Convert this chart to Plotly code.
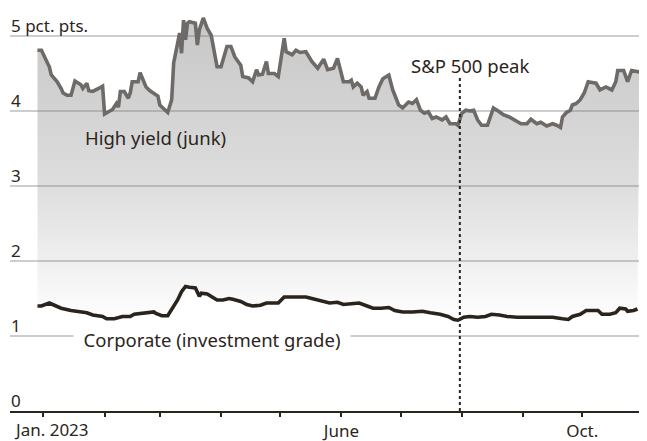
import plotly.graph_objects as go

# ---------------- data ----------------
junk_dates = ["2022-12-29","2022-12-31","2023-01-02","2023-01-04","2023-01-05","2023-01-08","2023-01-10","2023-01-11","2023-01-13","2023-01-15","2023-01-17","2023-01-20","2023-01-21","2023-01-23","2023-01-24","2023-01-26","2023-01-29","2023-01-31","2023-02-01","2023-02-03","2023-02-05","2023-02-07","2023-02-08","2023-02-09","2023-02-11","2023-02-13","2023-02-14","2023-02-15","2023-02-18","2023-02-19","2023-02-22","2023-02-24","2023-02-26","2023-02-28","2023-03-01","2023-03-03","2023-03-05","2023-03-07","2023-03-08","2023-03-10","2023-03-11","2023-03-12","2023-03-13","2023-03-14","2023-03-15","2023-03-16","2023-03-18","2023-03-19","2023-03-20","2023-03-21","2023-03-23","2023-03-25","2023-03-27","2023-03-30","2023-04-01","2023-04-04","2023-04-06","2023-04-08","2023-04-11","2023-04-12","2023-04-15","2023-04-17","2023-04-19","2023-04-20","2023-04-22","2023-04-24","2023-04-25","2023-04-28","2023-04-30","2023-05-02","2023-05-03","2023-05-04","2023-05-07","2023-05-09","2023-05-11","2023-05-14","2023-05-17","2023-05-20","2023-05-23","2023-05-25","2023-05-28","2023-05-30","2023-05-31","2023-06-02","2023-06-05","2023-06-06","2023-06-07","2023-06-09","2023-06-11","2023-06-12","2023-06-14","2023-06-15","2023-06-18","2023-06-20","2023-06-22","2023-06-25","2023-06-27","2023-06-30","2023-07-02","2023-07-05","2023-07-07","2023-07-09","2023-07-11","2023-07-13","2023-07-15","2023-07-17","2023-07-19","2023-07-22","2023-07-24","2023-07-26","2023-07-29","2023-07-30","2023-08-01","2023-08-03","2023-08-05","2023-08-07","2023-08-09","2023-08-11","2023-08-14","2023-08-15","2023-08-17","2023-08-20","2023-08-22","2023-08-25","2023-08-29","2023-08-31","2023-09-03","2023-09-05","2023-09-08","2023-09-10","2023-09-13","2023-09-16","2023-09-18","2023-09-20","2023-09-21","2023-09-23","2023-09-25","2023-09-26","2023-09-28","2023-09-30","2023-10-02","2023-10-04","2023-10-06","2023-10-08","2023-10-10","2023-10-12","2023-10-13","2023-10-16","2023-10-18","2023-10-19","2023-10-22","2023-10-24","2023-10-26","2023-10-28","2023-10-30"]
junk_values = [4.81,4.81,4.70,4.59,4.48,4.39,4.30,4.24,4.21,4.21,4.40,4.35,4.30,4.37,4.27,4.26,4.30,4.33,3.96,3.99,4.02,4.10,4.05,4.26,4.26,4.17,4.24,4.39,4.39,4.51,4.32,4.27,4.24,4.20,4.08,4.03,3.98,4.15,4.64,4.90,5.04,4.77,5.21,4.95,5.17,5.19,5.17,5.17,4.88,5.08,5.24,5.10,5.01,4.59,4.59,4.86,4.86,4.72,4.61,4.46,4.44,4.39,4.55,4.48,4.49,4.66,4.50,4.50,4.46,4.81,4.97,4.79,4.75,4.81,4.78,4.79,4.66,4.57,4.69,4.55,4.57,4.70,4.59,4.39,4.39,4.41,4.32,4.37,4.32,4.21,4.26,4.17,4.17,4.32,4.43,4.48,4.28,4.08,4.04,4.12,4.10,4.15,4.01,3.97,3.99,3.90,3.92,3.88,3.92,3.83,3.83,3.81,3.97,4.01,4.00,4.01,3.88,3.81,3.81,3.88,4.04,3.99,3.95,3.92,3.86,3.83,3.83,3.89,3.83,3.85,3.80,3.83,3.81,3.78,3.92,3.98,4.01,4.08,4.10,4.15,4.24,4.39,4.38,4.37,4.28,4.30,4.32,4.28,4.39,4.54,4.54,4.39,4.54,4.53,4.52]

corp_dates = ["2022-12-29","2022-12-31","2023-01-04","2023-01-06","2023-01-10","2023-01-15","2023-01-18","2023-01-23","2023-01-26","2023-01-31","2023-02-02","2023-02-06","2023-02-10","2023-02-14","2023-02-16","2023-02-21","2023-02-26","2023-02-27","2023-03-02","2023-03-05","2023-03-06","2023-03-10","2023-03-12","2023-03-14","2023-03-16","2023-03-19","2023-03-21","2023-03-22","2023-03-25","2023-03-27","2023-03-30","2023-04-02","2023-04-05","2023-04-07","2023-04-11","2023-04-14","2023-04-17","2023-04-21","2023-04-24","2023-04-28","2023-04-30","2023-05-03","2023-05-06","2023-05-11","2023-05-14","2023-05-17","2023-05-20","2023-05-24","2023-05-26","2023-05-30","2023-06-02","2023-06-06","2023-06-10","2023-06-14","2023-06-17","2023-06-21","2023-06-25","2023-06-28","2023-07-02","2023-07-07","2023-07-12","2023-07-16","2023-07-21","2023-07-25","2023-07-28","2023-07-30","2023-08-02","2023-08-05","2023-08-09","2023-08-13","2023-08-16","2023-08-20","2023-08-24","2023-08-29","2023-09-03","2023-09-08","2023-09-13","2023-09-16","2023-09-21","2023-09-24","2023-09-26","2023-09-30","2023-10-03","2023-10-07","2023-10-09","2023-10-11","2023-10-15","2023-10-18","2023-10-20","2023-10-23","2023-10-24","2023-10-27","2023-10-29"]
corp_values = [1.40,1.40,1.44,1.42,1.37,1.34,1.33,1.31,1.28,1.26,1.23,1.23,1.26,1.26,1.29,1.30,1.32,1.30,1.27,1.27,1.31,1.48,1.59,1.66,1.65,1.64,1.53,1.57,1.56,1.53,1.48,1.48,1.50,1.49,1.46,1.42,1.40,1.41,1.44,1.44,1.44,1.52,1.52,1.52,1.52,1.50,1.48,1.45,1.44,1.45,1.42,1.43,1.44,1.40,1.37,1.37,1.38,1.34,1.32,1.32,1.33,1.31,1.29,1.26,1.22,1.21,1.25,1.26,1.25,1.26,1.29,1.28,1.26,1.25,1.25,1.26,1.26,1.25,1.23,1.22,1.26,1.29,1.34,1.34,1.34,1.29,1.29,1.31,1.37,1.36,1.33,1.34,1.36]

month_ticks = ["2023-01-01","2023-02-01","2023-03-01","2023-04-01","2023-05-01",
               "2023-06-01","2023-07-01","2023-08-01","2023-09-01","2023-10-01"]
month_labels = ["Jan. 2023","","","","","June","","","","Oct."]
y_ticks = [0, 1, 2, 3, 4, 5]
y_labels = ["0", "1", "2", "3", "4", "5 pct. pts."]

peak_date = "2023-07-31"
peak_label = "S&P 500 peak"
junk_label = "High yield (junk)"
corp_label = "Corporate (investment grade)"

# ---------------- styles ----------------
FONT = "Noto Sans"
TXT = "#2b2520"
JUNK_COL = "#6e6a67"
CORP_COL = "#2b241d"

# the first month label is placed left-aligned (as in the original) as an annotation
tick_text = ["" if i == 0 else t for i, t in enumerate(month_labels)]

fig = go.Figure()

# invisible base for the fill
fig.add_trace(go.Scatter(x=corp_dates, y=corp_values, mode="lines",
                         line=dict(width=0, color="rgba(0,0,0,0)"),
                         hoverinfo="skip", showlegend=False))
# high yield line with gradient fill down to corporate line
fig.add_trace(go.Scatter(
    x=junk_dates, y=junk_values, mode="lines",
    line=dict(color=JUNK_COL, width=3.6),
    fill="tonexty",
    fillgradient=dict(type="vertical", start=1.2, stop=5.3,
                      colorscale=[[0, "rgba(120,120,120,0.0)"],
                                  [0.2, "rgba(120,120,120,0.12)"],
                                  [0.45, "rgba(120,120,120,0.25)"],
                                  [0.7, "rgba(120,120,120,0.33)"],
                                  [1, "rgba(120,120,120,0.42)"]]),
    showlegend=False, hoverinfo="skip"))
# corporate line
fig.add_trace(go.Scatter(x=corp_dates, y=corp_values, mode="lines",
                         line=dict(color=CORP_COL, width=3.6),
                         showlegend=False, hoverinfo="skip"))

# S&P 500 peak marker
fig.add_shape(type="line", xref="x", yref="y", x0=peak_date, x1=peak_date,
              y0=0, y1=4.45, line=dict(color=TXT, width=2, dash="dot"))

fig.add_annotation(x="2023-07-05", y=4.61, text=peak_label, showarrow=False,
                   xanchor="left", yanchor="middle",
                   font=dict(family=FONT, size=18.5, color=TXT))
fig.add_annotation(x="2023-01-21", y=3.65, text=junk_label, showarrow=False,
                   xanchor="left", yanchor="middle",
                   font=dict(family=FONT, size=18.5, color=TXT))
fig.add_annotation(x="2023-01-16", y=0.96,
                   text="\u00a0\u00a0" + corp_label + "\u00a0\u00a0",
                   showarrow=False, xanchor="left", yanchor="middle",
                   bgcolor="white", borderpad=0,
                   font=dict(family=FONT, size=18.5, color=TXT))

# y-axis labels sit above their gridlines at the left edge
for v, lab in zip(y_ticks, y_labels):
    fig.add_annotation(xref="paper", x=0, yref="y", y=v, text=lab,
                       showarrow=False, xanchor="left", yanchor="bottom",
                       yshift=-3, xshift=-1,
                       font=dict(family=FONT, size=17, color=TXT))

# first x label
fig.add_annotation(xref="x", x=month_ticks[0], yref="paper", y=0,
                   text=month_labels[0], showarrow=False,
                   xanchor="left", yanchor="top", xshift=-31, yshift=-5,
                   font=dict(family=FONT, size=17, color=TXT))

# the page body has an 8px margin, so the figure is sized to fit the window
fig.update_layout(
    width=639, height=433,
    margin=dict(l=2, r=4, t=0, b=30),
    paper_bgcolor="white", plot_bgcolor="white",
    font=dict(family=FONT, color=TXT),
    showlegend=False,
)
fig.update_xaxes(
    type="date",
    range=["2022-12-15 02:00", "2023-10-31 19:00"],
    tickvals=month_ticks, ticktext=tick_text,
    ticks="outside", ticklen=4, tickwidth=1.5, tickcolor=TXT,
    showline=True, linecolor=TXT, linewidth=1.5,
    showgrid=False, zeroline=False,
    tickfont=dict(family=FONT, size=17, color=TXT),
    automargin=False,
)
fig.update_yaxes(
    range=[0, 5.373],
    tickvals=y_ticks,
    showticklabels=False,
    ticks="",
    showgrid=True, gridcolor="#cdcdcd", gridwidth=1.5,
    zeroline=False, showline=False,
    automargin=False,
)

fig.write_html("out.html")
